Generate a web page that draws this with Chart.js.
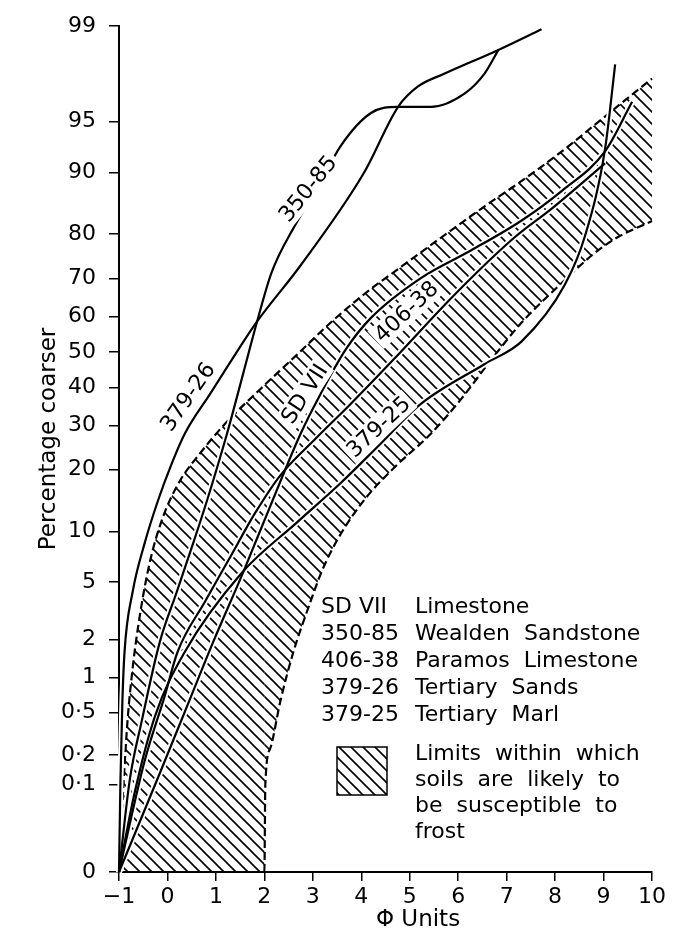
<!DOCTYPE html>
<html>
<head>
<meta charset="utf-8">
<script src="https://cdn.jsdelivr.net/npm/chart.js@4.4.1/dist/chart.umd.min.js"></script>
<style>
html, body { margin: 0; padding: 0; background: #fff; }
</style>
</head>
<body>
<canvas id="chart-grading" width="690" height="931"></canvas>
<script>
// axis ticks
var phiTicks = [-1, 0, 1, 2, 3, 4, 5, 6, 7, 8, 9, 10];
var phiTickLabels = ['\u22121', '0', '1', '2', '3', '4', '5', '6', '7', '8', '9', '10'];
var pctTicks = [0, 0.1, 0.2, 0.5, 1, 2, 5, 10, 20, 30, 40, 50, 60, 70, 80, 90, 95, 99];
var pctTickLabels = ['0', '0\u00b71', '0\u00b72', '0\u00b75', '1', '2', '5', '10', '20', '30', '40', '50', '60', '70', '80', '90', '95', '99'];

// grading curves (phi units, percentage coarser)
var sd7Phi = [-1, -0.16, 0.46, 0.94, 1.56, 2.12, 2.75, 3.16, 3.68, 4.20, 5.23, 6.27, 7.31, 8.14, 9.03, 9.59];
var sd7Pct = [0, 0.13, 0.65, 1.9, 5.75, 13.5, 28, 38.2, 50.7, 59.6, 70.1, 76.6, 82.6, 87.5, 92.4, 96.3];

var w35085Phi = [-1, -0.78, -0.53, -0.16, 0.19, 0.50, 0.82, 1.23, 1.56, 1.85, 2.15, 2.62, 3.12, 3.57, 4.20, 4.76, 5.44, 6.13, 6.54, 6.83];
var w35085Pct = [0, 0.11, 0.42, 1.9, 4.3, 8.1, 14.5, 28, 43.7, 58.6, 71.5, 81.5, 88.2, 92.9, 95.6, 96.0, 96.0, 96.75, 97.65, 98.45];

var p40638Phi = [-1, -0.47, -0.06, 0.21, 0.77, 1.29, 1.81, 2.33, 3.06, 3.78, 4.67, 5.92, 7.16, 7.93, 9.03];
var p40638Pct = [0, 0.175, 0.69, 1.61, 3.7, 7.1, 12.5, 18.9, 26.8, 35.5, 47.9, 65.8, 79.3, 84.7, 91.1];

var t37926Phi = [-1, -0.97, -0.93, -0.886, -0.72, -0.47, -0.20, 0.09, 0.36, 0.88, 1.40, 1.85, 2.75, 4.05, 4.76, 5.17, 5.71, 6.83, 7.72];
var t37926Pct = [0, 0.11, 0.63, 1.6, 4.3, 8.6, 14.3, 21.3, 28, 38.2, 49.3, 58.6, 73.2, 89.9, 96.0, 97.1, 97.65, 98.45, 98.94];

var t37925Phi = [-1, -0.68, -0.26, 0.36, 1.54, 2.68, 3.57, 4.40, 5.23, 6.54, 7.31, 8.20, 8.62, 9.03, 9.24];
var t37925Pct = [0, 0.09, 0.46, 1.61, 5.75, 11.2, 17.4, 25.6, 35.5, 46.5, 53.0, 68.4, 79.7, 92.6, 98.0];

// frost susceptibility limits
var upperPhi = [-1, -0.907, -0.824, -0.72, -0.575, -0.367, -0.098, 0.255, 0.67, 1.19, 1.915, 2.68, 3.37, 4.09, 4.82, 5.65, 6.48, 7.31, 8.14, 8.97, 9.59, 10];
var upperPct = [0, 0.1, 0.42, 1.18, 2.91, 6.6, 11.8, 17.8, 23.4, 30.4, 39.5, 49.3, 58.3, 66.3, 72.8, 79.3, 84.7, 88.9, 92.4, 95.2, 96.7, 97.45];
var lowerPhi = [-1, 2.0, 2.02, 2.12, 2.33, 2.6, 2.91, 3.20, 3.57, 4.09, 4.71, 5.44, 6.06, 6.69, 7.31, 8.14, 8.76, 9.28, 10];
var lowerPct = [0, 0, 0.1, 0.23, 0.63, 1.61, 3.4, 6.0, 9.6, 14.8, 20.7, 28.0, 36.8, 47.9, 58.3, 68.9, 75.5, 79.3, 82.5];

var curveNames = ['SD VII', '350-85', '406-38', '379-26', '379-25'];
var curveNotes = ['Limestone', 'Wealden  Sandstone', 'Paramos  Limestone', 'Tertiary  Sands', 'Tertiary  Marl'];
var limitNote = ['Limits  within  which', 'soils  are  likely  to', 'be  susceptible  to', 'frost'];

// probability scale: inverse normal (Acklam)
function probit(p) {
    var a = [-3.969683028665376e+01, 2.209460984245205e+02, -2.759285104469687e+02, 1.383577518672690e+02, -3.066479806614716e+01, 2.506628277459239e+00];
    var b = [-5.447609879822406e+01, 1.615858368580409e+02, -1.556989798598866e+02, 6.680131188771972e+01, -1.328068155288572e+01];
    var c = [-7.784894002430293e-03, -3.223964580411365e-01, -2.400758277161838e+00, -2.549671044545400e+00, 4.374664141464968e+00, 2.938163982698783e+00];
    var d = [7.784695709041462e-03, 3.224671290700398e-01, 2.445134137142996e+00, 3.754408661907416e+00];
    var q, r;
    if (p < 0.02425) {
        q = Math.sqrt(-2 * Math.log(p));
        return (((((c[0]*q+c[1])*q+c[2])*q+c[3])*q+c[4])*q+c[5]) / ((((d[0]*q+d[1])*q+d[2])*q+d[3])*q+1);
    }
    if (p > 1 - 0.02425) {
        q = Math.sqrt(-2 * Math.log(1 - p));
        return -(((((c[0]*q+c[1])*q+c[2])*q+c[3])*q+c[4])*q+c[5]) / ((((d[0]*q+d[1])*q+d[2])*q+d[3])*q+1);
    }
    q = p - 0.5; r = q * q;
    return (((((a[0]*r+a[1])*r+a[2])*r+a[3])*r+a[4])*r+a[5])*q / (((((b[0]*r+b[1])*r+b[2])*r+b[3])*r+b[4])*r+1);
}
var Z_ZERO = -3.715;
function toZ(pct) {
    if (pct <= 0) return Z_ZERO;
    if (pct < 0.1) return Z_ZERO + (pct / 0.1) * (probit(0.001) - Z_ZERO);
    return probit(pct / 100);
}
function pts(xs, ys) {
    return xs.map(function(x, i) { return {x: x, y: toZ(ys[i])}; });
}

function makeHatch() {
    var s = 12;
    var c = document.createElement('canvas');
    c.width = s; c.height = s;
    var g = c.getContext('2d');
    g.strokeStyle = '#000';
    g.lineWidth = 1.6;
    g.beginPath();
    g.moveTo(-2, -2); g.lineTo(s + 2, s + 2);
    g.moveTo(-2, s - 2); g.lineTo(2, s + 2);
    g.moveTo(s - 2, -2); g.lineTo(s + 2, 2);
    g.stroke();
    return document.getElementById('chart-grading').getContext('2d').createPattern(c, 'repeat');
}
var hatch = makeHatch();

var curves = [
    [sd7Phi, sd7Pct], [w35085Phi, w35085Pct], [p40638Phi, p40638Pct],
    [t37926Phi, t37926Pct], [t37925Phi, t37925Pct]
];

var datasets = [
    {
        label: 'upper limit', data: pts(upperPhi, upperPct),
        borderColor: '#000', borderWidth: 2.2, borderDash: [8, 4],
        backgroundColor: hatch, fill: 1, order: 3
    },
    {
        label: 'lower limit', data: pts(lowerPhi, lowerPct),
        borderColor: '#000', borderWidth: 2.2, borderDash: [8, 4], fill: false, order: 3,
        segment: { borderColor: function(ctx) { return ctx.p1DataIndex <= 1 ? 'rgba(0,0,0,0)' : '#000'; } }
    }
];
curves.forEach(function(cv, i) {
    datasets.push({ label: curveNames[i] + ' halo', data: pts(cv[0], cv[1]),
        borderColor: '#fff', borderWidth: 6, fill: false, order: 2 });
});
curves.forEach(function(cv, i) {
    datasets.push({ label: curveNames[i], data: pts(cv[0], cv[1]),
        borderColor: '#000', borderWidth: 2.2, fill: false, order: 1 });
});

// curve labels, placed in data units
var curveTags = [
    { text: '379-26', x: 0.42, pct: 37.4, angle: -55 },
    { text: '350-85', x: 2.90, pct: 87.8, angle: -51 },
    { text: 'SD VII', x: 2.83, pct: 38.2, angle: -57 },
    { text: '406-38', x: 4.93, pct: 61.3, angle: -43 },
    { text: '379-25', x: 4.36, pct: 29.6, angle: -43 }
];

var textPlugin = {
    id: 'textPlugin',
    afterDatasetsDraw: function(chart) {
        var ctx = chart.ctx, xs = chart.scales.x, ys = chart.scales.y;
        ctx.save();
        ctx.font = '22px "DejaVu Sans"';
        ctx.textAlign = 'center';
        ctx.textBaseline = 'middle';
        curveTags.forEach(function(t) {
            var px = xs.getPixelForValue(t.x), py = ys.getPixelForValue(toZ(t.pct));
            ctx.save();
            ctx.translate(px, py);
            ctx.rotate(t.angle * Math.PI / 180);
            var w = ctx.measureText(t.text).width;
            ctx.fillStyle = '#fff';
            ctx.fillRect(-w / 2 - 3, -12, w + 6, 24);
            ctx.fillStyle = '#000';
            ctx.fillText(t.text, 0, 1);
            ctx.restore();
        });
        ctx.restore();
    },
    afterDraw: function(chart) {
        var ctx = chart.ctx;
        ctx.save();
        ctx.fillStyle = '#000';
        ctx.font = '22px "DejaVu Sans"';
        ctx.textBaseline = 'middle';
        ctx.textAlign = 'left';
        // legend
        curveNames.forEach(function(n, i) {
            var y = 607 + i * 27;
            ctx.fillText(n, 321, y);
            ctx.fillText(curveNotes[i], 415, y);
        });
        ctx.fillStyle = hatch;
        ctx.fillRect(337, 747, 50, 48);
        ctx.strokeStyle = '#000';
        ctx.lineWidth = 1.5;
        ctx.strokeRect(337, 747, 50, 48);
        ctx.fillStyle = '#000';
        limitNote.forEach(function(s, i) {
            ctx.fillText(s, 415, 754 + i * 26);
        });
        // axis titles
        ctx.textAlign = 'center';
        ctx.font = '23px "DejaVu Sans"';
        ctx.fillText('\u03a6 Units', 418, 920);
        ctx.translate(49, 439);
        ctx.rotate(-Math.PI / 2);
        ctx.fillText('Percentage coarser', 0, 0);
        ctx.restore();
    }
};

Chart.defaults.font.family = '"DejaVu Sans"';
Chart.defaults.color = '#000';

window.onload = function() {
    var ctx = document.getElementById('chart-grading').getContext('2d');
    window.gradingChart = new Chart(ctx, {
        type: 'line',
        data: { datasets: datasets },
        options: {
            responsive: false,
            animation: false,
            events: [],
            layout: { padding: { top: 19, right: 38, left: 0, bottom: 0 } },
            elements: {
                point: { radius: 0 },
                line: { cubicInterpolationMode: 'monotone' }
            },
            datasets: { line: { clip: false } },
            plugins: { legend: { display: false }, tooltip: { enabled: false } },
            scales: {
                x: {
                    type: 'linear', position: 'bottom', min: -1, max: 10,
                    afterFit: function(s) { s.height = 59; },
                    afterBuildTicks: function(s) { s.ticks = phiTicks.map(function(v) { return {value: v}; }); },
                    ticks: {
                        font: { size: 22 }, padding: 3, maxRotation: 0, autoSkip: false,
                        callback: function(v, i) { return phiTickLabels[i]; }
                    },
                    grid: { drawOnChartArea: false, drawTicks: true, tickLength: 9, color: '#000', lineWidth: 1.5 },
                    border: { display: true, color: '#000', width: 2 }
                },
                y: {
                    type: 'linear', position: 'left', min: Z_ZERO, max: probit(0.99),
                    afterFit: function(s) { s.width = 119; },
                    afterBuildTicks: function(s) { s.ticks = pctTicks.map(function(p) { return {value: toZ(p)}; }); },
                    ticks: {
                        font: { size: 22 }, padding: 13, autoSkip: false,
                        callback: function(v, i) { return pctTickLabels[i]; }
                    },
                    grid: { drawOnChartArea: false, drawTicks: true, tickLength: 10, color: '#000', lineWidth: 1.5 },
                    border: { display: true, color: '#000', width: 2 }
                }
            }
        },
        plugins: [textPlugin]
    });
};
</script>
</body>
</html>
